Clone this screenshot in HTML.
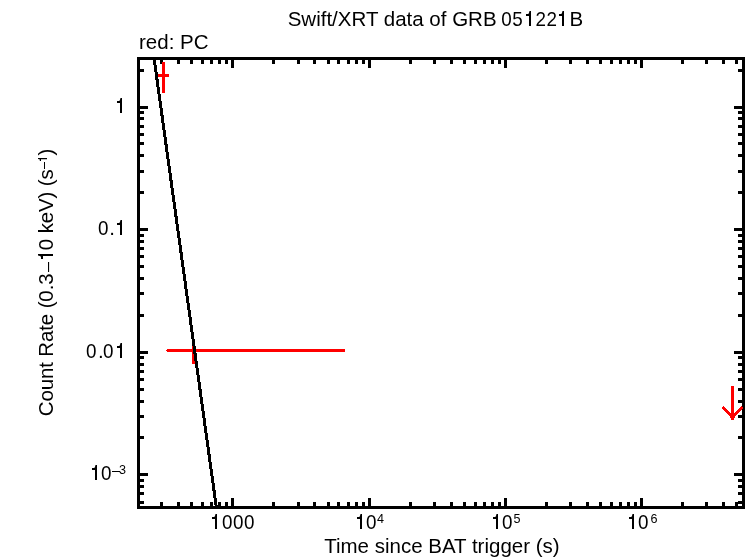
<!DOCTYPE html>
<html><head><meta charset="utf-8"><title>Swift/XRT data of GRB 051221B</title>
<style>
html,body{margin:0;padding:0;background:#fff;}
body{width:748px;height:558px;overflow:hidden;}
svg{display:block;}
text{font-family:"Liberation Sans",sans-serif;fill:#000;}
</style></head><body>
<svg style="will-change:transform" width="748" height="558" viewBox="0 0 748 558">
<defs><path id="one" d="M0,-12 L2.3,-12 Q3.1,-12.7 3.5,-15 L5,-15 L5,0 L3,0 L3,-10 L0,-10 Z" fill="#000"/></defs>
<rect x="0" y="0" width="748" height="558" fill="#fff"/>
<!-- frame and ticks -->
<g fill="#000" shape-rendering="crispEdges">
<rect x="137" y="57" width="608" height="3"/>
<rect x="137" y="506" width="608" height="3"/>
<rect x="137" y="57" width="3" height="452"/>
<rect x="742" y="57" width="3" height="452"/>
<rect x="160" y="60" width="3" height="4"/>
<rect x="160" y="502" width="3" height="4"/>
<rect x="177" y="60" width="3" height="4"/>
<rect x="177" y="502" width="3" height="4"/>
<rect x="190" y="60" width="3" height="4"/>
<rect x="190" y="502" width="3" height="4"/>
<rect x="201" y="60" width="3" height="4"/>
<rect x="201" y="502" width="3" height="4"/>
<rect x="210" y="60" width="3" height="4"/>
<rect x="210" y="502" width="3" height="4"/>
<rect x="218" y="60" width="3" height="4"/>
<rect x="218" y="502" width="3" height="4"/>
<rect x="225" y="60" width="3" height="4"/>
<rect x="225" y="502" width="3" height="4"/>
<rect x="231" y="60" width="3" height="8"/>
<rect x="231" y="498" width="3" height="8"/>
<rect x="272" y="60" width="3" height="4"/>
<rect x="272" y="502" width="3" height="4"/>
<rect x="297" y="60" width="3" height="4"/>
<rect x="297" y="502" width="3" height="4"/>
<rect x="313" y="60" width="3" height="4"/>
<rect x="313" y="502" width="3" height="4"/>
<rect x="327" y="60" width="3" height="4"/>
<rect x="327" y="502" width="3" height="4"/>
<rect x="337" y="60" width="3" height="4"/>
<rect x="337" y="502" width="3" height="4"/>
<rect x="347" y="60" width="3" height="4"/>
<rect x="347" y="502" width="3" height="4"/>
<rect x="355" y="60" width="3" height="4"/>
<rect x="355" y="502" width="3" height="4"/>
<rect x="362" y="60" width="3" height="4"/>
<rect x="362" y="502" width="3" height="4"/>
<rect x="368" y="60" width="3" height="8"/>
<rect x="368" y="498" width="3" height="8"/>
<rect x="409" y="60" width="3" height="4"/>
<rect x="409" y="502" width="3" height="4"/>
<rect x="433" y="60" width="3" height="4"/>
<rect x="433" y="502" width="3" height="4"/>
<rect x="450" y="60" width="3" height="4"/>
<rect x="450" y="502" width="3" height="4"/>
<rect x="463" y="60" width="3" height="4"/>
<rect x="463" y="502" width="3" height="4"/>
<rect x="474" y="60" width="3" height="4"/>
<rect x="474" y="502" width="3" height="4"/>
<rect x="483" y="60" width="3" height="4"/>
<rect x="483" y="502" width="3" height="4"/>
<rect x="491" y="60" width="3" height="4"/>
<rect x="491" y="502" width="3" height="4"/>
<rect x="498" y="60" width="3" height="4"/>
<rect x="498" y="502" width="3" height="4"/>
<rect x="504" y="60" width="3" height="8"/>
<rect x="504" y="498" width="3" height="8"/>
<rect x="545" y="60" width="3" height="4"/>
<rect x="545" y="502" width="3" height="4"/>
<rect x="569" y="60" width="3" height="4"/>
<rect x="569" y="502" width="3" height="4"/>
<rect x="586" y="60" width="3" height="4"/>
<rect x="586" y="502" width="3" height="4"/>
<rect x="599" y="60" width="3" height="4"/>
<rect x="599" y="502" width="3" height="4"/>
<rect x="610" y="60" width="3" height="4"/>
<rect x="610" y="502" width="3" height="4"/>
<rect x="619" y="60" width="3" height="4"/>
<rect x="619" y="502" width="3" height="4"/>
<rect x="627" y="60" width="3" height="4"/>
<rect x="627" y="502" width="3" height="4"/>
<rect x="634" y="60" width="3" height="4"/>
<rect x="634" y="502" width="3" height="4"/>
<rect x="640" y="60" width="3" height="8"/>
<rect x="640" y="498" width="3" height="8"/>
<rect x="681" y="60" width="3" height="4"/>
<rect x="681" y="502" width="3" height="4"/>
<rect x="705" y="60" width="3" height="4"/>
<rect x="705" y="502" width="3" height="4"/>
<rect x="722" y="60" width="3" height="4"/>
<rect x="722" y="502" width="3" height="4"/>
<rect x="735" y="60" width="3" height="4"/>
<rect x="735" y="502" width="3" height="4"/>
<rect x="140" y="501" width="4" height="3"/>
<rect x="738" y="501" width="4" height="3"/>
<rect x="140" y="492" width="4" height="3"/>
<rect x="738" y="492" width="4" height="3"/>
<rect x="140" y="485" width="4" height="3"/>
<rect x="738" y="485" width="4" height="3"/>
<rect x="140" y="479" width="4" height="3"/>
<rect x="738" y="479" width="4" height="3"/>
<rect x="140" y="473" width="8" height="3"/>
<rect x="734" y="473" width="8" height="3"/>
<rect x="140" y="436" width="4" height="3"/>
<rect x="738" y="436" width="4" height="3"/>
<rect x="140" y="415" width="4" height="3"/>
<rect x="738" y="415" width="4" height="3"/>
<rect x="140" y="400" width="4" height="3"/>
<rect x="738" y="400" width="4" height="3"/>
<rect x="140" y="388" width="4" height="3"/>
<rect x="738" y="388" width="4" height="3"/>
<rect x="140" y="378" width="4" height="3"/>
<rect x="738" y="378" width="4" height="3"/>
<rect x="140" y="370" width="4" height="3"/>
<rect x="738" y="370" width="4" height="3"/>
<rect x="140" y="363" width="4" height="3"/>
<rect x="738" y="363" width="4" height="3"/>
<rect x="140" y="356" width="4" height="3"/>
<rect x="738" y="356" width="4" height="3"/>
<rect x="140" y="351" width="8" height="3"/>
<rect x="734" y="351" width="8" height="3"/>
<rect x="140" y="314" width="4" height="3"/>
<rect x="738" y="314" width="4" height="3"/>
<rect x="140" y="292" width="4" height="3"/>
<rect x="738" y="292" width="4" height="3"/>
<rect x="140" y="277" width="4" height="3"/>
<rect x="738" y="277" width="4" height="3"/>
<rect x="140" y="265" width="4" height="3"/>
<rect x="738" y="265" width="4" height="3"/>
<rect x="140" y="255" width="4" height="3"/>
<rect x="738" y="255" width="4" height="3"/>
<rect x="140" y="247" width="4" height="3"/>
<rect x="738" y="247" width="4" height="3"/>
<rect x="140" y="240" width="4" height="3"/>
<rect x="738" y="240" width="4" height="3"/>
<rect x="140" y="234" width="4" height="3"/>
<rect x="738" y="234" width="4" height="3"/>
<rect x="140" y="228" width="8" height="3"/>
<rect x="734" y="228" width="8" height="3"/>
<rect x="140" y="191" width="4" height="3"/>
<rect x="738" y="191" width="4" height="3"/>
<rect x="140" y="170" width="4" height="3"/>
<rect x="738" y="170" width="4" height="3"/>
<rect x="140" y="154" width="4" height="3"/>
<rect x="738" y="154" width="4" height="3"/>
<rect x="140" y="142" width="4" height="3"/>
<rect x="738" y="142" width="4" height="3"/>
<rect x="140" y="133" width="4" height="3"/>
<rect x="738" y="133" width="4" height="3"/>
<rect x="140" y="125" width="4" height="3"/>
<rect x="738" y="125" width="4" height="3"/>
<rect x="140" y="117" width="4" height="3"/>
<rect x="738" y="117" width="4" height="3"/>
<rect x="140" y="111" width="4" height="3"/>
<rect x="738" y="111" width="4" height="3"/>
<rect x="140" y="106" width="8" height="3"/>
<rect x="734" y="106" width="8" height="3"/>
<rect x="140" y="69" width="4" height="3"/>
<rect x="738" y="69" width="4" height="3"/>
</g>
<!-- red data -->
<g fill="#f00" shape-rendering="crispEdges">
<rect x="162" y="62" width="3" height="31"/>
<rect x="158" y="74" width="11" height="3"/>
<rect x="167" y="349" width="178" height="3"/>
<rect x="166" y="350" width="1" height="1"/>
<rect x="192" y="346" width="3" height="18"/>
<rect x="731" y="386" width="3" height="34"/>
<rect x="723" y="406" width="1" height="1"/>
<rect x="741" y="406" width="1" height="1"/>
<rect x="722" y="407" width="3" height="1"/>
<rect x="740" y="407" width="3" height="1"/>
<rect x="722" y="408" width="4" height="1"/>
<rect x="739" y="408" width="4" height="1"/>
<rect x="723" y="409" width="4" height="1"/>
<rect x="738" y="409" width="4" height="1"/>
<rect x="724" y="410" width="4" height="1"/>
<rect x="737" y="410" width="4" height="1"/>
<rect x="725" y="411" width="4" height="1"/>
<rect x="736" y="411" width="4" height="1"/>
<rect x="726" y="412" width="4" height="1"/>
<rect x="735" y="412" width="4" height="1"/>
<rect x="727" y="413" width="4" height="1"/>
<rect x="734" y="413" width="4" height="1"/>
<rect x="728" y="414" width="4" height="1"/>
<rect x="733" y="414" width="4" height="1"/>
<rect x="729" y="415" width="4" height="1"/>
<rect x="732" y="415" width="4" height="1"/>
<rect x="730" y="416" width="4" height="1"/>
<rect x="731" y="416" width="4" height="1"/>
<rect x="731" y="417" width="4" height="1"/>
<rect x="730" y="417" width="4" height="1"/>
</g>
<!-- model line -->
<line x1="154.31" y1="60" x2="216.17" y2="506" stroke="#000" stroke-width="3" shape-rendering="crispEdges"/>
<!-- text -->
<text x="287.7" y="26" font-size="20.5">Swift/XRT data of GRB</text>
<text transform="translate(501.2,26) scale(0.92,1.025)" font-size="20.5" letter-spacing="0.557">05</text>
<use href="#one" transform="translate(526,26) scale(1.0)"/>
<text transform="translate(535.4,26) scale(0.92,1.025)" font-size="20.5" letter-spacing="0.557">22</text>
<use href="#one" transform="translate(559,26) scale(1.0)"/>
<text x="569.5" y="26" font-size="20.5">B</text>
<text x="139" y="49" font-size="20.5">red: PC</text>
<text x="324.2" y="553" font-size="20.5">Time since BAT trigger (s)</text>
<use href="#one" transform="translate(117,113) scale(1.0)"/>
<text transform="translate(98.1,235) scale(0.92,1.025)" font-size="20.5">0</text>
<text x="109.2" y="235" font-size="20.5">.</text>
<use href="#one" transform="translate(117,235) scale(1.0)"/>
<text transform="translate(86.1,358) scale(0.92,1.025)" font-size="20.5">0</text>
<text x="98.0" y="358" font-size="20.5">.</text>
<text transform="translate(103.1,358) scale(0.92,1.025)" font-size="20.5">0</text>
<use href="#one" transform="translate(117,358) scale(1.0)"/>
<use href="#one" transform="translate(92,480) scale(1.0)"/>
<text transform="translate(101.1,480) scale(0.92,1.025)" font-size="20.5">0</text>
<rect x="112" y="471" width="8" height="1"/>
<text x="119" y="474" font-size="12.6">3</text>
<use href="#one" transform="translate(212,529) scale(1.0)"/>
<text transform="translate(222.1,529) scale(0.92,1.025)" font-size="20.5" letter-spacing="0.557">000</text>
<use href="#one" transform="translate(357,529) scale(1.0)"/>
<text transform="translate(366.1,529) scale(0.92,1.025)" font-size="20.5">0</text>
<text x="377" y="523" font-size="12.6">4</text>
<use href="#one" transform="translate(493,529) scale(1.0)"/>
<text transform="translate(502.1,529) scale(0.92,1.025)" font-size="20.5">0</text>
<text x="513.5" y="523" font-size="12.6">5</text>
<use href="#one" transform="translate(629,529) scale(1.0)"/>
<text transform="translate(638.1,529) scale(0.92,1.025)" font-size="20.5">0</text>
<text x="650.5" y="523" font-size="12.6">6</text>
<g transform="translate(53,282.5) rotate(-90)">
<text x="-133.8" y="0" font-size="20.5" letter-spacing="-0.13">Count Rate (0.3</text>
<rect x="10.5" y="-5" width="10" height="1.1"/>
<use href="#one" transform="translate(23.5,0) scale(1.0)"/>
<text x="32.3" y="0" font-size="20.5" letter-spacing="-0.13">0 keV) (s</text>
<rect x="113.5" y="-9" width="7" height="1"/>
<use href="#one" transform="translate(121.5,-6) scale(0.6)"/>
<text x="127.1" y="0" font-size="20.5">)</text>
</g>
</svg>
</body></html>
